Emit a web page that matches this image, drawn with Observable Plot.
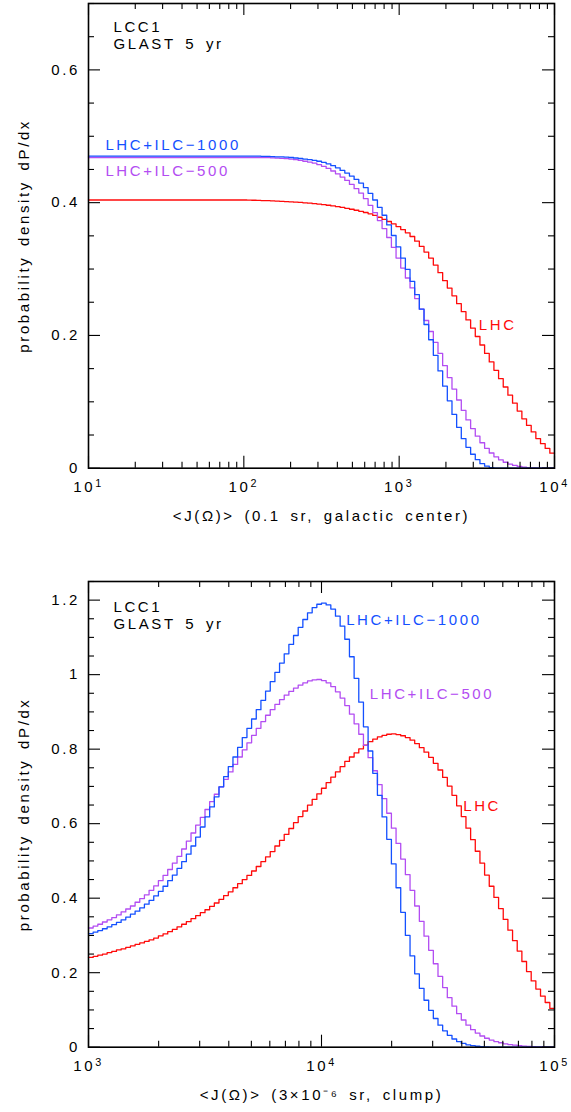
<!DOCTYPE html>
<html><head><meta charset="utf-8">
<script src="https://cdn.jsdelivr.net/npm/d3@7"></script>
<script src="https://cdn.jsdelivr.net/npm/@observablehq/plot@0.6"></script>
<style>
html,body{margin:0;padding:0;background:#fff;}
#chart svg{display:block;}
#chart svg text{letter-spacing:2.6px;word-spacing:3px;}
</style></head><body><div id="chart"></div>
<script>
// ---------- data ----------
const seriesNames = ["LHC", "LHC+ILC−500", "LHC+ILC−1000"];
const seriesColors = ["#ff0a0a", "#b34df2", "#1450ff"];

// top panel: 100 log-uniform bins from 10^1 to 10^4
const topLog10Range = [1, 4];
const topLHC = [
0.404,0.404,0.404,0.404,0.404,0.404,0.404,0.404,0.404,0.404,
0.404,0.404,0.404,0.404,0.404,0.404,0.404,0.404,0.404,0.404,
0.404,0.404,0.404,0.404,0.404,0.404,0.404,0.404,0.404,0.404,
0.404,0.404,0.404,
0.404,0.4038,0.4036,0.4034,0.4032,0.403,0.4027,0.4024,0.402,0.4016,
0.4012,0.4008,0.4003,0.3998,0.3992,0.3985,0.3978,0.397,0.3961,0.3951,
0.394,0.3928,0.3915,0.3901,0.3886,0.387,0.3852,0.3832,0.3808,0.378,
0.3748,0.3716,0.368,0.364,0.3595,0.3545,0.349,0.342,0.334,0.3255,
0.3165,0.306,0.2945,0.2825,0.2713,0.2596,0.2479,0.2358,0.2233,0.2109,
0.1984,0.1856,0.1729,0.1601,0.1475,0.1349,0.1223,0.110,0.098,0.086,
0.0744,0.0645,0.0546,0.0447,0.037,0.0298,0.0226];
const topILC500 = [
0.468,0.468,0.468,0.468,0.468,0.468,0.468,0.468,0.468,0.468,
0.468,0.468,0.468,0.468,0.468,0.468,0.468,0.468,0.468,0.468,
0.468,0.468,0.468,0.468,0.468,0.468,0.468,0.468,0.468,0.468,
0.468,0.468,0.468,0.468,0.468,0.468,0.468,
0.4679,0.4677,0.4675,0.4672,0.4668,0.4663,0.4656,0.4647,0.4636,0.4624,0.4611,
0.4597,0.4574,0.4547,0.4515,0.4477,0.4434,0.4385,0.4335,0.4275,0.421,
0.4145,0.406,0.396,0.385,0.373,0.361,0.3475,0.3325,0.3165,0.3015,
0.2865,0.2715,0.2555,0.2395,0.2225,0.2059,0.1894,0.1729,0.1545,0.1365,
0.1192,0.1027,0.0871,0.0727,0.0597,0.0482,0.0383,0.0299,0.0229,0.0172,
0.0126,0.009,0.0062,0.0042,0.0027,0.0017,0.001,0.0005,0.0002,0,0,0];
const topILC1000 = [
0.470,0.470,0.470,0.470,0.470,0.470,0.470,0.470,0.470,0.470,
0.470,0.470,0.470,0.470,0.470,0.470,0.470,0.470,0.470,0.470,
0.470,0.470,0.470,0.470,0.470,0.470,0.470,0.470,0.470,0.470,
0.470,0.470,0.470,0.470,0.470,0.470,0.470,
0.4698,0.4696,0.4694,0.4691,0.4689,0.4685,0.468,0.4673,0.4665,0.4657,0.4648,
0.4637,0.4624,0.4607,0.4585,0.4557,0.4524,0.4485,0.4445,0.44,0.435,
0.4295,0.4225,0.414,0.404,0.393,0.381,0.3665,0.3505,0.3335,0.3165,
0.2995,0.2815,0.2615,0.2395,0.2165,0.1935,0.17,0.1465,0.1235,0.1015,
0.081,0.0615,0.0445,0.0315,0.021,0.0128,0.0068,0.003,0.001,
0,0,0,0,0,0,0,0,0,0,0,0,0];

// bottom panel: 100 log-uniform bins from 10^3 to 10^5
const bottomLog10Range = [3, 5];
const bottomLHC = [
0.241,0.244,0.247,0.25,0.254,0.257,0.261,0.264,0.268,0.272,
0.276,0.28,0.284,0.288,0.293,0.299,0.304,0.31,0.316,0.323,
0.33,0.337,0.345,0.353,0.361,0.369,0.378,0.387,0.397,0.407,
0.417,0.428,0.439,0.45,0.461,0.473,0.485,0.498,0.511,0.525,
0.54,0.555,0.571,0.587,0.603,0.619,0.634,0.65,0.665,0.68,
0.695,0.71,0.725,0.739,0.753,0.767,0.779,0.79,0.801,0.811,
0.82,0.827,0.833,0.837,0.84,0.841,0.839,0.836,0.831,0.824,
0.815,0.804,0.792,0.778,0.762,0.744,0.724,0.701,0.676,0.648,
0.619,0.588,0.557,0.526,0.494,0.462,0.432,0.402,0.372,0.343,
0.314,0.286,0.258,0.23,0.203,0.178,0.156,0.137,0.12,0.104];
const bottomILC500 = [
0.320,0.325,0.330,0.336,0.342,0.348,0.355,0.363,0.371,0.379,
0.389,0.399,0.409,0.421,0.433,0.447,0.461,0.477,0.494,0.512,
0.532,0.553,0.575,0.596,0.617,0.638,0.659,0.679,0.699,0.719,
0.739,0.759,0.779,0.798,0.817,0.837,0.856,0.874,0.891,0.906,
0.92,0.933,0.945,0.955,0.964,0.972,0.978,0.983,0.986,0.987,
0.984,0.978,0.968,0.954,0.937,0.917,0.894,0.868,0.84,0.81,
0.777,0.742,0.705,0.667,0.628,0.588,0.547,0.505,0.463,0.421,
0.379,0.338,0.298,0.26,0.224,0.19,0.16,0.133,0.11,0.09,
0.073,0.059,0.047,0.038,0.03,0.024,0.019,0.015,0.012,0.009,
0.007,0.0055,0.004,0.003,0.0022,0.0016,0.0011,0.0007,0.0004,0.0002];
const bottomILC1000 = [
0.305,0.309,0.313,0.318,0.323,0.329,0.335,0.342,0.349,0.357,
0.365,0.374,0.384,0.394,0.406,0.418,0.432,0.447,0.462,0.48,
0.498,0.518,0.54,0.564,0.591,0.618,0.645,0.672,0.699,0.726,
0.753,0.779,0.805,0.831,0.856,0.881,0.906,0.931,0.956,0.981,
1.006,1.031,1.056,1.081,1.105,1.127,1.148,1.166,1.18,1.189,
1.192,1.187,1.176,1.157,1.13,1.095,1.048,0.99,0.926,0.86,
0.795,0.735,0.676,0.618,0.558,0.492,0.428,0.362,0.3,0.245,
0.197,0.158,0.126,0.099,0.077,0.059,0.044,0.032,0.022,0.015,
0.01,0.0065,0.004,0.0025,0.0015,0.0008,0.0004,0,0,0,
0,0,0,0,0,0,0,0,0,0];

// axes
const topXTicks = [10, 100, 1000, 10000];
const topXTickLabels = ["10¹", "10²", "10³", "10⁴"];
const topYTicks = [0, 0.2, 0.4, 0.6];
const topYTickLabels = ["0", "0.2", "0.4", "0.6"];
const topYMax = 0.7;
const bottomXTicks = [1000, 10000, 100000];
const bottomXTickLabels = ["10³", "10⁴", "10⁵"];
const bottomYTicks = [0, 0.2, 0.4, 0.6, 0.8, 1, 1.2];
const bottomYTickLabels = ["0", "0.2", "0.4", "0.6", "0.8", "1", "1.2"];
const bottomYMax = 1.25;

const yTitle = "probability density dP/dx";
const topXTitle = "<J(Ω)> (0.1 sr, galactic center)";
const bottomXTitle = "<J(Ω)> (3×10⁻⁶ sr, clump)";
const noteLines = ["LCC1", "GLAST 5 yr"];

// curve labels (anchor in data space)
const topCurveLabels = [
  {series: "LHC+ILC−1000", x: 12.85, y: 0.4796},
  {series: "LHC+ILC−500", x: 12.85, y: 0.4395},
  {series: "LHC", x: 3258, y: 0.2083}
];
const bottomCurveLabels = [
  {series: "LHC+ILC−1000", x: 12760, y: 1.1336},
  {series: "LHC+ILC−500", x: 16110, y: 0.9347},
  {series: "LHC", x: 40560, y: 0.634}
];

// ---------- drawing ----------
const FONT = "'Liberation Sans', Arial, Helvetica, sans-serif";
const W = 571, H = 556, ML = 88, MR = 17;
const SUP = {"⁰":"0","¹":"1","²":"2","³":"3","⁴":"4","⁵":"5","⁶":"6","⁷":"7","⁸":"8","⁹":"9","⁻":"−"};

function steps(values, lo, hi, series) {
  const n = values.length, w = (hi - lo) / n;
  const pts = values.map((v, i) => ({x: Math.pow(10, lo + i * w), v, series}));
  pts.push({x: Math.pow(10, hi), v: values[n - 1], series});
  return pts;
}

// render trailing unicode superscripts as raised tspans (as in the original)
function raiseExponents(svg) {
  svg.querySelectorAll('g[aria-label="x-axis tick label"] text').forEach(t => {
    const s = t.textContent;
    let i = s.length;
    while (i > 0 && SUP[s[i - 1]]) i--;
    if (i === s.length) return;
    const base = s.slice(0, i), exp = [...s.slice(i)].map(c => SUP[c]).join("");
    t.textContent = base;
    const ts = document.createElementNS("http://www.w3.org/2000/svg", "tspan");
    ts.setAttribute("dy", "-0.42em");
    ts.setAttribute("font-size", "0.72em");
    ts.textContent = exp;
    t.appendChild(ts);
  });
}

function panel(o) {
  const plotW = W - ML - MR, plotH = H - o.mt - o.mb;
  const [lo, hi] = o.range;
  const xMinor = [];
  for (let e = lo; e < hi; e++) for (let m = 2; m <= 9; m++) xMinor.push(m * Math.pow(10, e));
  const yMinor = d3.range(0, o.ymax + 1e-9, 0.05).filter(v => !o.yTicks.some(t => Math.abs(t - v) < 1e-9));
  const data = o.curves.flatMap(([vals, name]) => steps(vals, lo, hi, name));
  const tk = {stroke: "black", strokeWidth: 1.1};
  const svg = Plot.plot({
    width: W, height: H, marginLeft: ML, marginRight: MR, marginTop: o.mt, marginBottom: o.mb,
    style: {fontFamily: FONT, fontSize: "15px", background: "white", color: "black", overflow: "visible"},
    x: {type: "log", domain: [Math.pow(10, lo), Math.pow(10, hi)]},
    y: {domain: [0, o.ymax]},
    color: {domain: seriesNames, range: seriesColors},
    marks: [
      Plot.line(data, {x: "x", y: "v", z: "series", stroke: "series", curve: "step-after", strokeWidth: 1.3}),
      Plot.ruleX(xMinor, {...tk, insetTop: plotH - 6}),
      Plot.ruleX(xMinor, {...tk, insetBottom: plotH - 6}),
      Plot.ruleX(o.xTicks, {...tk, insetTop: plotH - 12}),
      Plot.ruleX(o.xTicks, {...tk, insetBottom: plotH - 12}),
      Plot.ruleY(yMinor, {...tk, insetRight: plotW - 6}),
      Plot.ruleY(yMinor, {...tk, insetLeft: plotW - 6}),
      Plot.ruleY(o.yTicks, {...tk, insetRight: plotW - 12}),
      Plot.ruleY(o.yTicks, {...tk, insetLeft: plotW - 12}),
      Plot.frame({stroke: "black", strokeWidth: 1.6}),
      Plot.axisX(o.xTicks, {anchor: "bottom", tickSize: 0, tickPadding: 13, label: null,
        tickFormat: d => o.xLabels[o.xTicks.indexOf(d)], fill: "black"}),
      Plot.axisY(o.yTicks, {anchor: "left", tickSize: 0, tickPadding: 8.5, label: null,
        tickFormat: d => o.yLabels[o.yTicks.indexOf(d)], fill: "black"}),
      Plot.text([o.xTitle], {frameAnchor: "bottom", dy: o.xTitleDy, lineAnchor: "bottom", textAnchor: "middle", fill: "black"}),
      Plot.text([yTitle], {frameAnchor: "left", rotate: -90, dx: -60, lineAnchor: "bottom", textAnchor: "middle", fill: "black"}),
      Plot.text([noteLines.join("\n")], {frameAnchor: "top-left", dx: 25, dy: o.noteDy, lineAnchor: "bottom", lineHeight: 1.13, textAnchor: "start", fill: "black"}),
      Plot.text(o.labels, {x: "x", y: "y", text: "series", fill: "series", textAnchor: "start", lineAnchor: "bottom"})
    ]
  });
  raiseExponents(svg);
  return svg;
}

const chart = document.getElementById("chart");
chart.append(panel({
  mt: 3, mb: 88.3, range: topLog10Range, ymax: topYMax,
  curves: [[topLHC, "LHC"], [topILC500, "LHC+ILC−500"], [topILC1000, "LHC+ILC−1000"]],
  xTicks: topXTicks, xLabels: topXTickLabels, yTicks: topYTicks, yLabels: topYTickLabels,
  xTitle: topXTitle, xTitleDy: 53, noteDy: 45.5, labels: topCurveLabels
}));
chart.append(panel({
  mt: 25, mb: 65.3, range: bottomLog10Range, ymax: bottomYMax,
  curves: [[bottomLHC, "LHC"], [bottomILC500, "LHC+ILC−500"], [bottomILC1000, "LHC+ILC−1000"]],
  xTicks: bottomXTicks, xLabels: bottomXTickLabels, yTicks: bottomYTicks, yLabels: bottomYTickLabels,
  xTitle: bottomXTitle, xTitleDy: 52.3, noteDy: 47, labels: bottomCurveLabels
}));
</script>
</body></html>
